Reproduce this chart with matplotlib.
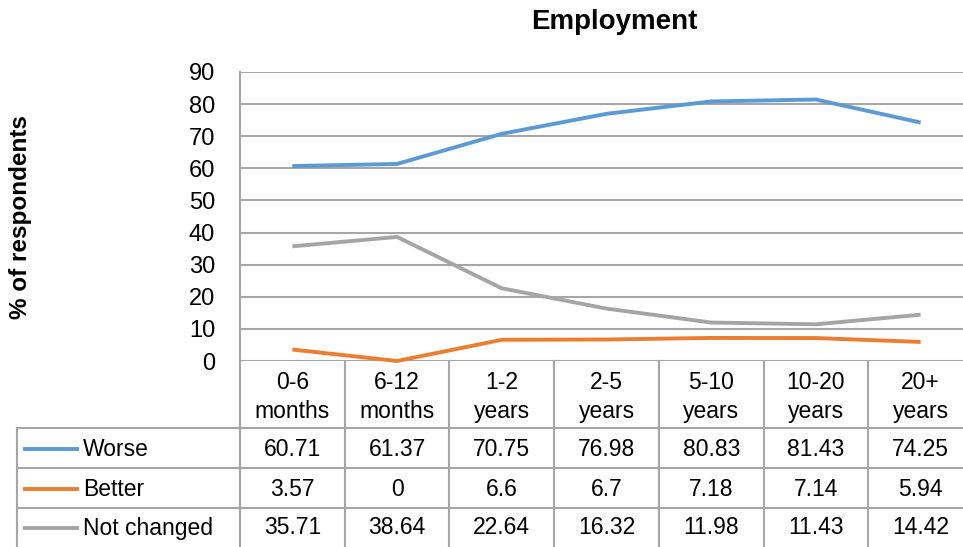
import matplotlib.pyplot as plt
import matplotlib.transforms as mtransforms

plt.rcParams['font.family'] = ['Liberation Sans', 'DejaVu Sans']

# data
categories = ["0-6\nmonths", "6-12\nmonths", "1-2\nyears", "2-5\nyears",
              "5-10\nyears", "10-20\nyears", "20+\nyears"]
series_names = ["Worse", "Better", "Not changed"]
worse = [60.71, 61.37, 70.75, 76.98, 80.83, 81.43, 74.25]
better = [3.57, 0, 6.6, 6.7, 7.18, 7.14, 5.94]
not_changed = [35.71, 38.64, 22.64, 16.32, 11.98, 11.43, 14.42]
yticks = [0, 10, 20, 30, 40, 50, 60, 70, 80, 90]

series = [worse, better, not_changed]
colors = ["#5b9bd5", "#ed7d31", "#a5a5a5"]
grid_col = "#a6a6a6"

W, H = 963, 547
fig = plt.figure(figsize=(W / 100, H / 100), dpi=100)

def fx(px):
  return px / W

def fy(py):
  return 1 - py / H

# plot area (right side runs past the picture edge, like the original)
left, right, top, bottom = 240, 973, 72, 361
ax = fig.add_axes([fx(left), fy(bottom), fx(right - left), fy(top) - fy(bottom)])
ax.set_xlim(-0.5, len(categories) - 0.5)
ax.set_ylim(0, 90)
ax.set_yticks(yticks)
ax.set_xticks([])
ax.tick_params(axis='y', length=0, pad=18, labelsize=17)
for y in yticks:
  ax.axhline(y, color=grid_col, lw=1.5, zorder=1)
for name, s in ax.spines.items():
  s.set_visible(name == 'left')
ax.spines['left'].set_color(grid_col)
ax.spines['left'].set_linewidth(1.5)

for vals, c in zip(series, colors):
  ax.plot(range(len(vals)), vals, color=c, lw=2.8, zorder=3,
          solid_capstyle='butt', clip_on=False)

ax.set_ylabel("% of respondents", fontsize=17.5, fontweight='bold', labelpad=0)
ax.yaxis.set_label_coords(fx(32), fy(217), transform=fig.transFigure)
fig.text(fx(614), fy(22), "Employment", ha='center', va='center',
         fontsize=20, fontweight='bold')

# data table below the plot
blend = mtransforms.blended_transform_factory(ax.transData, fig.transFigure)
header_top, header_bot = 361, 428
row_centers = [449, 489, 528]
row_lines = [428, 468, 508]
tbl_left = 17
lw = 1.5

for i in range(len(categories) + 1):
  x = i - 0.5
  ax.plot([x, x], [fy(header_top), 0], transform=blend, color=grid_col,
          lw=lw, clip_on=False)
for yy in row_lines:
  fig.add_artist(plt.Line2D([fx(tbl_left), 1], [fy(yy), fy(yy)],
                            color=grid_col, lw=lw))
fig.add_artist(plt.Line2D([fx(tbl_left), fx(tbl_left)], [fy(header_bot), 0],
                          color=grid_col, lw=lw))

for i, cat in enumerate(categories):
  ax.text(i, fy(397), cat, transform=blend, ha='center', va='center',
          fontsize=16.5, linespacing=1.3)

for name, vals, c, yp in zip(series_names, series, colors, row_centers):
  yc = fy(yp)
  fig.add_artist(plt.Line2D([fx(25), fx(77)], [yc, yc], color=c, lw=2.8))
  fig.text(fx(83), yc, name, ha='left', va='center', fontsize=16.5)
  for i, v in enumerate(vals):
    ax.text(i, yc, f"{v:g}", transform=blend, ha='center', va='center',
            fontsize=16.5)

fig.savefig("out.png", dpi=100)
